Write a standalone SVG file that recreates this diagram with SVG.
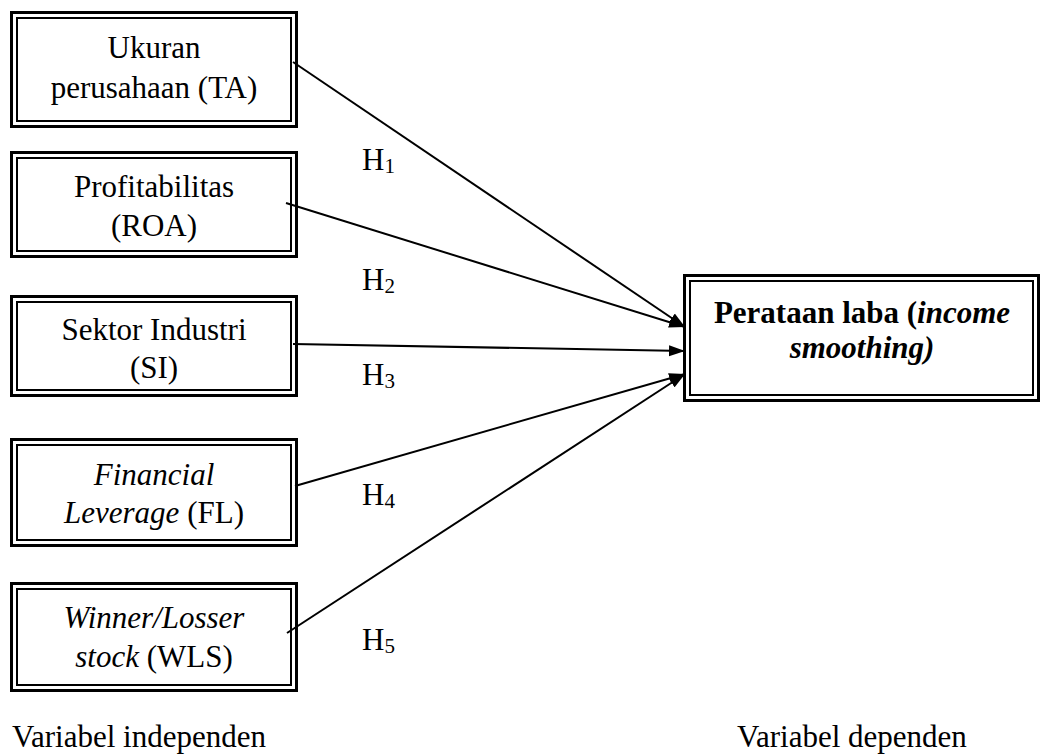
<svg xmlns="http://www.w3.org/2000/svg" width="1041" height="755" viewBox="0 0 1041 755">
<style>
text{font-family:"Liberation Serif","Times New Roman",serif;font-size:31px;fill:#000}
.c{text-anchor:middle}
.i{font-style:italic}
.b{font-weight:bold}
.sub{font-size:21px}
.o{fill:#fff;stroke:#000;stroke-width:3}
.n{fill:none;stroke:#000;stroke-width:2}
.e{stroke:#000;stroke-width:2;fill:none;marker-end:url(#ah)}
</style>
<defs>
<marker id="ah" markerUnits="userSpaceOnUse" markerWidth="17" markerHeight="12" refX="16" refY="6" orient="auto">
<polygon points="0,0.5 16,6 0,11.5" fill="#000"/>
</marker>
</defs>
<rect width="1041" height="755" fill="#fff"/>
<g id="n1">
<rect class="o" x="11.5" y="12.5" width="285" height="114"/>
<rect class="n" x="17" y="18" width="274" height="103"/>
<text class="c" x="154" y="58">Ukuran</text>
<text class="c" x="154" y="98">perusahaan (TA)</text>
</g>
<g id="n2">
<rect class="o" x="11.5" y="152.5" width="285" height="104"/>
<rect class="n" x="17" y="158" width="274" height="93"/>
<text class="c" x="154" y="197">Profitabilitas</text>
<text class="c" x="154" y="236">(ROA)</text>
</g>
<g id="n3">
<rect class="o" x="11.5" y="296.5" width="285" height="99"/>
<rect class="n" x="17" y="302" width="274" height="88"/>
<text class="c" x="154" y="340">Sektor Industri</text>
<text class="c" x="154" y="378">(SI)</text>
</g>
<g id="n4">
<rect class="o" x="11.5" y="439.5" width="285" height="106"/>
<rect class="n" x="17" y="445" width="274" height="95"/>
<text class="c i" x="154" y="485">Financial</text>
<text class="c" x="154" y="523"><tspan class="i">Leverage</tspan> (FL)</text>
</g>
<g id="n5">
<rect class="o" x="11.5" y="583.5" width="285" height="107"/>
<rect class="n" x="17" y="589" width="274" height="96"/>
<text class="c i" x="154" y="628">Winner/Losser</text>
<text class="c" x="154" y="667"><tspan class="i">stock</tspan> (WLS)</text>
</g>
<g id="target">
<rect class="o" x="684.5" y="275.5" width="354" height="125"/>
<rect class="n" x="690" y="281" width="343" height="114"/>
<text class="c b" x="862" y="323">Perataan laba (<tspan class="i">income</tspan></text>
<text class="c b i" x="862" y="358">smoothing)</text>
</g>
<g id="connectors">
<line class="e" x1="293" y1="62" x2="685" y2="327"/>
<line class="e" x1="286" y1="203" x2="685" y2="327"/>
<line class="e" x1="293" y1="344" x2="685" y2="351"/>
<line class="e" x1="295" y1="486" x2="685" y2="374"/>
<line class="e" x1="287" y1="633" x2="685" y2="374"/>
</g>
<g id="labels">
<text x="362" y="170">H<tspan class="sub" dy="3">1</tspan></text>
<text x="362" y="290">H<tspan class="sub" dy="3">2</tspan></text>
<text x="362" y="385">H<tspan class="sub" dy="3">3</tspan></text>
<text x="362" y="505">H<tspan class="sub" dy="3">4</tspan></text>
<text x="362" y="650">H<tspan class="sub" dy="3">5</tspan></text>
<text x="12" y="747">Variabel independen</text>
<text x="737" y="747">Variabel dependen</text>
</g>
</svg>
